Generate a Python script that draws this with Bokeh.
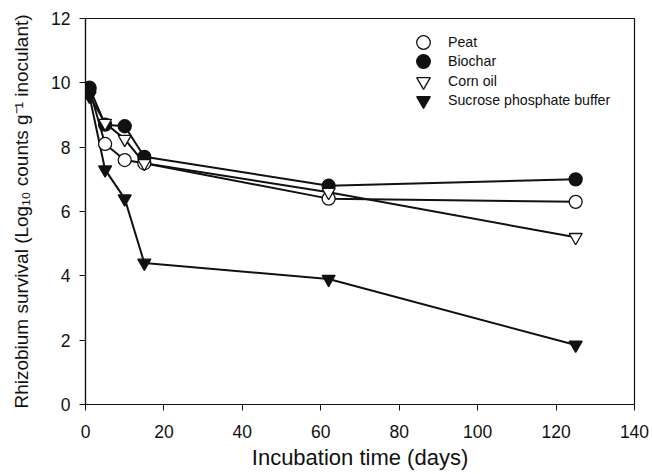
from bokeh.plotting import figure
from bokeh.models import Legend, LegendItem, ColumnDataSource, Range1d, FixedTicker
from bokeh.embed import file_html
from bokeh.resources import INLINE

days = [1, 5, 10, 15, 62, 125]
peat = [9.8, 8.1, 7.6, 7.5, 6.4, 6.3]
biochar = [9.85, 8.7, 8.65, 7.7, 6.8, 7.0]
corn_oil = [9.6, 8.75, 8.25, 7.5, 6.6, 5.2]
sucrose = [9.6, 7.3, 6.4, 4.4, 3.9, 1.85]

series_names = ["Peat", "Biochar", "Corn oil", "Sucrose phosphate buffer"]
x_ticks = [0, 20, 40, 60, 80, 100, 120, 140]
y_ticks = [0, 2, 4, 6, 8, 10, 12]

FONT = "Liberation Sans"
INK = "#111111"

p = figure(width=652, height=474, output_backend="svg", toolbar_location=None,
           x_range=Range1d(0, 140), y_range=Range1d(0, 12),
           min_border_left=85, min_border_right=18, min_border_top=18, min_border_bottom=70)
p.background_fill_color = "white"
p.border_fill_color = "white"
p.outline_line_color = INK
p.outline_line_width = 1.2
p.xgrid.visible = False
p.ygrid.visible = False

styles = [
    dict(marker="circle", fill_color="white"),
    dict(marker="circle", fill_color=INK),
    dict(marker="inverted_triangle", fill_color="white"),
    dict(marker="inverted_triangle", fill_color=INK),
]
data = [peat, biochar, corn_oil, sucrose]

for vals in data:
    src = ColumnDataSource(dict(x=days, y=vals))
    p.line("x", "y", source=src, line_color=INK, line_width=2)

for i, (name, vals, st) in enumerate(zip(series_names, data, styles)):
    src = ColumnDataSource(dict(x=days, y=vals))
    r = p.scatter("x", "y", source=src, marker=st["marker"], size=13,
                  fill_color=st["fill_color"], line_color=INK, line_width=1.3)
    # one small legend per row so that rows can sit closer than the glyph box
    leg = Legend(items=[LegendItem(label=name, renderers=[r])],
                 location=(321, round(345 - 19.4 * i)), orientation="vertical",
                 glyph_width=34, glyph_height=34, label_height=34, spacing=0,
                 label_standoff=8, padding=0, margin=0,
                 label_text_font=FONT, label_text_font_size="14.2px",
                 label_text_color=INK, border_line_color=None,
                 background_fill_alpha=0)
    p.add_layout(leg)

for ax in (p.xaxis[0], p.yaxis[0]):
    ax.axis_line_color = INK
    ax.axis_line_width = 1.2
    ax.major_tick_line_color = INK
    ax.major_tick_in = 0
    ax.major_tick_out = 6
    ax.minor_tick_line_color = None
    ax.major_label_text_font = FONT
    ax.major_label_text_font_size = "17.5px"
    ax.major_label_text_color = INK
    ax.axis_label_text_font = FONT
    ax.axis_label_text_font_style = "normal"
    ax.axis_label_text_color = INK

p.xaxis.ticker = FixedTicker(ticks=x_ticks)
p.yaxis.ticker = FixedTicker(ticks=y_ticks)
p.xaxis.major_label_standoff = 14
p.yaxis.major_label_standoff = 9
p.xaxis.axis_label = "Incubation time (days)"
p.xaxis.axis_label_text_font_size = "22px"
p.xaxis.axis_label_standoff = 4
p.yaxis.axis_label = "Rhizobium survival (Log\u2081\u2080 counts g\u207b\u00b9 inoculant)"
p.yaxis.axis_label_text_font_size = "19px"
p.yaxis.axis_label_standoff = 16

open("out.html", "w").write(file_html(p, INLINE))
